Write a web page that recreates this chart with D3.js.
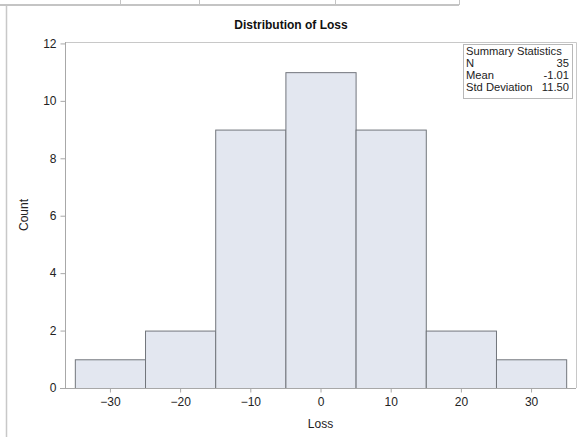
<!DOCTYPE html>
<html>
<head>
<meta charset="utf-8">
<script src="https://cdn.jsdelivr.net/npm/d3@7"></script>
<style>
  html, body { margin: 0; padding: 0; background: #fff; }
  svg { display: block; font-family: "Liberation Sans", Arial, sans-serif; }
</style>
</head>
<body>
<svg id="chart" width="579" height="437"></svg>
<script>
// Data
const binStarts = [-35, -25, -15, -5, 5, 15, 25];
const binWidth = 10;
const counts = [1, 2, 9, 11, 9, 2, 1];
const xTicks = [-30, -20, -10, 0, 10, 20, 30];
const yTicks = [0, 2, 4, 6, 8, 10, 12];
const statLabels = ["N", "Mean", "Std Deviation"];
const statValues = ["35", "-1.01", "11.50"];
const title = "Distribution of Loss";
const xLabel = "Loss";
const yLabel = "Count";

const svg = d3.select("#chart");
const W = 579, H = 437;
const plot = { left: 65, right: 576, top: 42, bottom: 388 };
const FONT = '"Liberation Sans", Arial, sans-serif';

// page decoration (table remnant above & graph border)
svg.append("line").attr("x1", 0).attr("x2", 459).attr("y1", 5).attr("y2", 5)
  .attr("stroke", "#c4c4c4").attr("stroke-width", 2);
[120, 199, 335, 459].forEach(xx => {
  svg.append("line").attr("x1", xx + 0.5).attr("x2", xx + 0.5).attr("y1", 0).attr("y2", 5)
    .attr("stroke", "#c4c4c4");
});
svg.append("line").attr("x1", 6.5).attr("x2", 6.5).attr("y1", 6).attr("y2", H)
  .attr("stroke", "#c8c8c8").attr("stroke-width", 1.5);

const x = d3.scaleLinear().domain([-36.4, 36.4]).range([plot.left, plot.right]);
const y = d3.scaleLinear().domain([0, 12.05]).range([plot.bottom, plot.top]);

// frame (top and right)
svg.append("path")
  .attr("d", `M${plot.left},${plot.top + 0.5}H${plot.right + 0.5}V${plot.bottom}`)
  .attr("fill", "none").attr("stroke", "#c8c8c8");

// bars
svg.append("g").selectAll("rect").data(counts).join("rect")
  .attr("x", (d, i) => x(binStarts[i]) + 0.5)
  .attr("width", (d, i) => x(binStarts[i] + binWidth) - x(binStarts[i]))
  .attr("y", d => y(d) + 0.5)
  .attr("height", d => y(0) - y(d))
  .attr("fill", "#e3e7f0")
  .attr("stroke", "#72767c")
  .attr("stroke-width", 1);

// axes
const xAxis = svg.append("g").attr("transform", `translate(0,${plot.bottom + 0.5})`)
  .call(d3.axisBottom(x).tickValues(xTicks).tickSize(4).tickPadding(5).tickFormat(d3.format("d")));
const yAxis = svg.append("g").attr("transform", `translate(${plot.left + 0.5},0)`)
  .call(d3.axisLeft(y).tickValues(yTicks).tickSize(5).tickPadding(4).tickFormat(d3.format("d")));

[xAxis, yAxis].forEach(g => {
  g.attr("font-size", 12).attr("font-family", FONT);
  g.select(".domain").attr("stroke", "#a8a8a8");
  g.selectAll(".tick line").attr("stroke", "#a8a8a8");
  g.selectAll(".tick text").attr("fill", "#222");
});
xAxis.select(".domain").attr("d", `M${plot.left - 5},0H${plot.right}`);
yAxis.select(".domain").attr("d", `M0,${plot.bottom}V${plot.top}`);

// title
svg.append("text").attr("x", 291).attr("y", 29).attr("text-anchor", "middle")
  .attr("font-size", 12).attr("font-weight", "bold").attr("fill", "#111")
  .text(title);

// axis labels
svg.append("text").attr("x", (plot.left + plot.right) / 2).attr("y", 428)
  .attr("text-anchor", "middle").attr("font-size", 12).attr("fill", "#222").text(xLabel);
svg.append("text").attr("transform", `translate(28,${(plot.top + plot.bottom) / 2}) rotate(-90)`)
  .attr("text-anchor", "middle").attr("font-size", 12).attr("fill", "#222").text(yLabel);

// summary statistics inset
const lg = svg.append("g").attr("font-size", 11.2).attr("fill", "#222");
const lx0 = 463, lx1 = 572, ly0 = 44, rowH = 12;
lg.append("rect").attr("x", lx0 + 0.5).attr("y", ly0 + 0.5).attr("width", lx1 - lx0).attr("height", 54)
  .attr("fill", "#fff").attr("stroke", "#b8b8b8");
lg.append("text").attr("x", lx0 + 3).attr("y", ly0 + 10.5).text("Summary Statistics");
statLabels.forEach((s, i) => {
  lg.append("text").attr("x", lx0 + 3).attr("y", ly0 + 10.5 + rowH * (i + 1)).text(s);
  lg.append("text").attr("x", lx1 - 3).attr("y", ly0 + 10.5 + rowH * (i + 1)).attr("text-anchor", "end")
    .text(statValues[i]);
});
</script>
</body>
</html>
